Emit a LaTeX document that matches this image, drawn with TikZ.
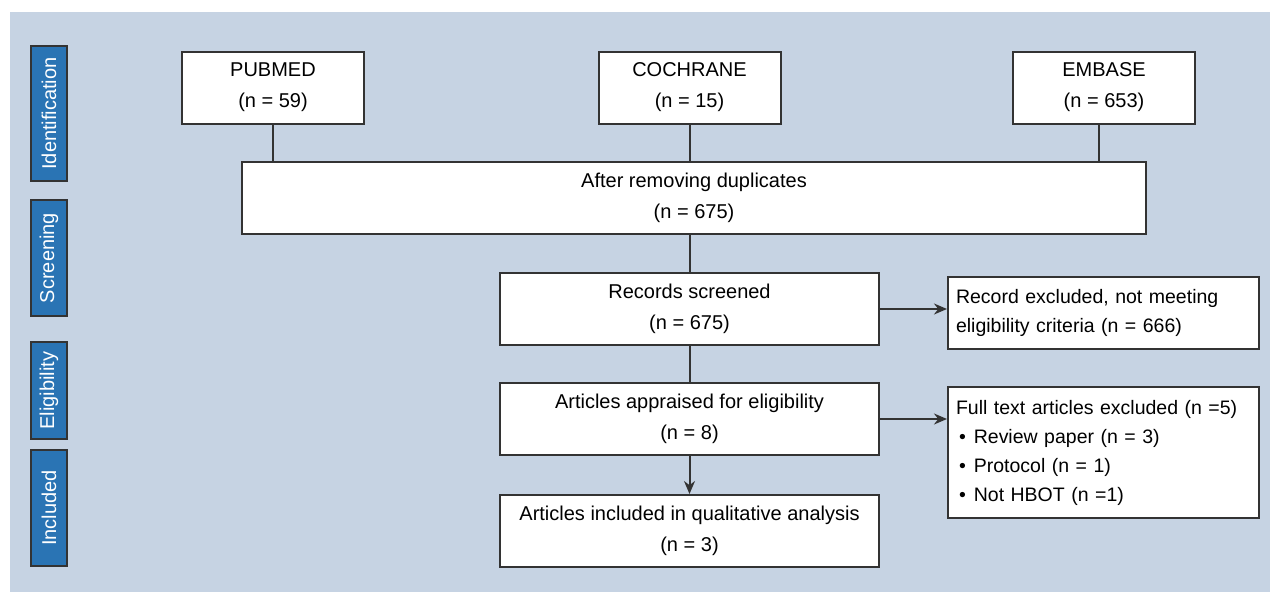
\documentclass[tikz,border=0pt]{standalone}
\usepackage{fontspec}
\setmainfont{Liberation Sans}
\usetikzlibrary{arrows.meta}
\definecolor{panel}{HTML}{C6D3E3}
\definecolor{stageblue}{HTML}{2A74B4}
\definecolor{edge}{HTML}{333333}
\begin{document}
\begin{tikzpicture}[x=1pt,y=-1pt,
  box/.style={draw=edge,fill=white,line width=2pt,inner sep=0pt,align=center,
    font=\fontsize{20}{31}\selectfont},
  src/.style={box,minimum width=182pt,minimum height=72pt},
  main/.style={box,minimum width=379pt,minimum height=72pt},
  side/.style={box,align=left,inner xsep=8pt,text width=295pt,
    font=\fontsize{19.5}{29}\selectfont},
  stage/.style={draw=edge,fill=stageblue,text=white,line width=2pt,rotate=90,
    minimum height=36pt,inner sep=0pt,font=\fontsize{20}{24}\selectfont},
  link/.style={draw=edge,line width=2pt},
  arr/.style={link,-{Stealth[length=13pt,width=11pt]}}]
  \useasboundingbox (0,0) rectangle (1270,592);
  \fill[white] (0,0) rectangle (1270,592);
  \fill[panel] (10,12) rectangle (1270,592);

  \node[stage,minimum width=135pt] (ident) at (49,113.5) {Identification};
  \node[stage,minimum width=116pt] (scrn) at (49,258) {Screening};
  \node[stage,minimum width=97pt] (elig) at (49,390.5) {Eligibility};
  \node[stage,minimum width=116pt] (inclst) at (49,508) {Included};

  \node[src] (pubmed) at (273,87.5) {PUBMED\\(n = 59)};
  \node[src] (cochrane) at (689.5,87.5) {COCHRANE\\(n = 15)};
  \node[src] (embase) at (1104,87.5) {EMBASE\\(n = 653)};
  \node[box,minimum width=904pt,minimum height=72pt] (dup) at (694,198)
    {After removing duplicates\\(n = 675)};
  \node[main] (screen) at (689.5,309) {Records screened\\(n = 675)};
  \node[main] (appr) at (689.5,419) {Articles appraised for eligibility\\(n = 8)};
  \node[main] (incl) at (689.5,531) {Articles included in qualitative analysis\\(n = 3)};
  \node[side,minimum height=72pt] (excl) at (1103.5,313)
    {Record excluded, not meeting\\eligibility criteria (n = 666)};
  \node[side,minimum height=131pt] (fulltext) at (1103.5,452.5)
    {Full text articles excluded (n =5)\\
     \hspace*{3pt}\textbullet\hspace{8pt}Review paper (n = 3)\\
     \hspace*{3pt}\textbullet\hspace{8pt}Protocol (n = 1)\\
     \hspace*{3pt}\textbullet\hspace{8pt}Not HBOT (n =1)};

  \draw[link] (pubmed) -- (pubmed |- dup.north);
  \draw[link] (cochrane) -- (cochrane |- dup.north);
  \draw[link] ([xshift=-5pt]embase.south) -- ([xshift=-5pt]embase.south |- dup.north);
  \draw[link] (screen |- dup.south) -- (screen);
  \draw[link] (screen) -- (appr);
  \draw[arr] (appr) -- (incl);
  \draw[arr] (screen) -- (screen -| excl.west);
  \draw[arr] (appr) -- (appr -| fulltext.west);
\end{tikzpicture}
\end{document}
